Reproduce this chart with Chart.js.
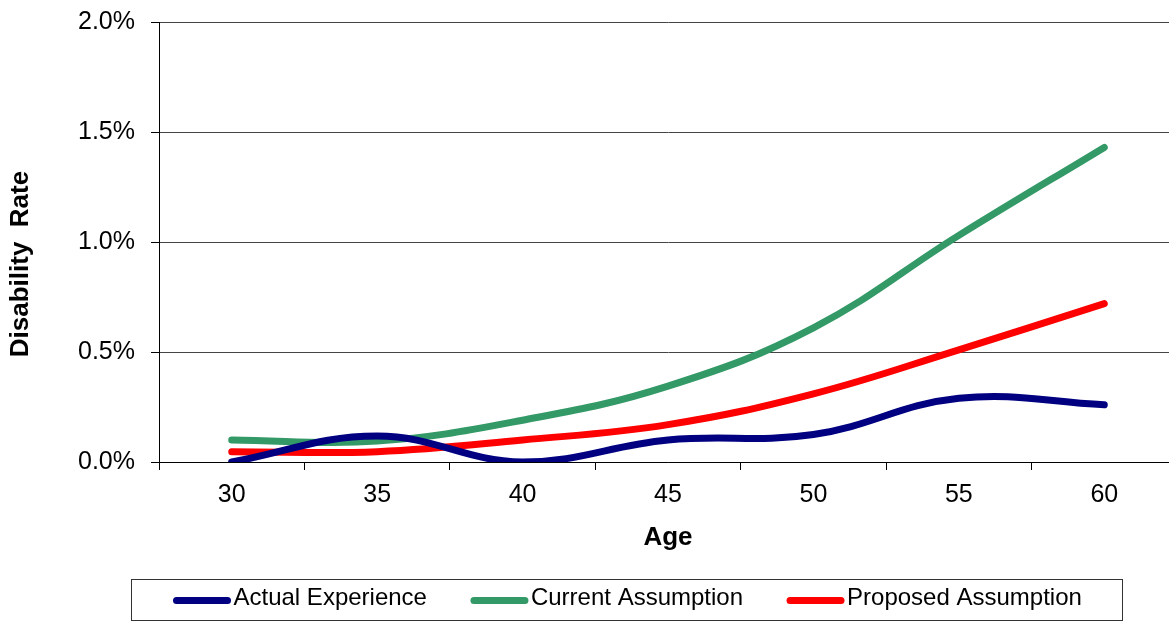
<!DOCTYPE html>
<html>
<head>
<meta charset="utf-8">
<script src="https://cdn.jsdelivr.net/npm/chart.js@4/dist/chart.umd.min.js"></script>
<style>
  html, body { margin: 0; padding: 0; background: #fff; overflow: hidden; }
  canvas { display: block; }
</style>
</head>
<body>
<canvas id="chart" width="1180" height="621"></canvas>
<script>
var ages = ["30", "35", "40", "45", "50", "55", "60"];
var actualExperience = [0.00, 0.118, 0.00, 0.10, 0.125, 0.29, 0.26];
var currentAssumption = [0.10, 0.095, 0.19, 0.345, 0.61, 1.03, 1.43];
var proposedAssumption = [0.047, 0.047, 0.10, 0.17, 0.31, 0.51, 0.72];
var yTicks = [0, 0.5, 1.0, 1.5, 2.0];

var fontName = "'Liberation Sans', Arial, sans-serif";

function makeLine(label, values, colour) {
    return {
        label: label,
        data: values,
        borderColor: colour,
        backgroundColor: colour,
        borderWidth: 7,
        borderCapStyle: "round",
        borderJoinStyle: "round",
        pointRadius: 0,
        tension: 0.4,
        fill: false
    };
}

// legend box + rotated y title, drawn by hand so they sit where the original has them
var extrasPlugin = {
    id: "extras",
    afterDraw: function (chart) {
        var ctx = chart.ctx;
        ctx.save();

        ctx.font = "bold 26px " + fontName;
        ctx.fillStyle = "#000";
        ctx.textAlign = "center";
        ctx.textBaseline = "middle";
        ctx.translate(21, 264);
        ctx.rotate(-Math.PI / 2);
        ctx.fillText("Disability  Rate", 0, 0);
        ctx.setTransform(1, 0, 0, 1, 0, 0);

        ctx.strokeStyle = "#333";
        ctx.lineWidth = 1;
        ctx.strokeRect(131.5, 579.5, 991, 41);

        ctx.font = "24px " + fontName;
        ctx.textAlign = "left";
        var x = 176.5;
        var y = 600.5;
        chart.data.datasets.forEach(function (ds) {
            ctx.strokeStyle = ds.borderColor;
            ctx.lineWidth = 7;
            ctx.lineCap = "round";
            ctx.beginPath();
            ctx.moveTo(x, y);
            ctx.lineTo(x + 51, y);
            ctx.stroke();
            ctx.fillStyle = "#000";
            ctx.fillText(ds.label, x + 57, y - 2);
            x += 57 + ctx.measureText(ds.label).width + 47;
        });
        ctx.restore();
    }
};

var chart = new Chart(document.getElementById("chart"), {
    type: "line",
    data: {
        labels: ages,
        datasets: [
            makeLine("Actual Experience", actualExperience, "#000080"),
            makeLine("Current Assumption", currentAssumption, "#339966"),
            makeLine("Proposed Assumption", proposedAssumption, "#ff0000")
        ]
    },
    options: {
        responsive: false,
        animation: false,
        layout: { padding: { top: 22, right: 3, bottom: 68, left: 0 } },
        plugins: {
            legend: { display: false },
            tooltip: { enabled: false }
        },
        scales: {
            x: {
                offset: true,
                afterFit: function (scale) { scale.height = 91; },
                grid: {
                    offset: true,
                    drawOnChartArea: false,
                    drawTicks: true,
                    tickLength: 8,
                    tickColor: "#000"
                },
                border: { display: true, color: "#000", width: 1 },
                ticks: {
                    color: "#000",
                    padding: 10,
                    font: { family: fontName, size: 25 }
                },
                title: {
                    display: true,
                    text: "Age",
                    color: "#000",
                    padding: { top: 0, bottom: 0 },
                    font: { family: fontName, size: 26, weight: "bold" }
                }
            },
            y: {
                min: 0,
                max: 2.0,
                afterFit: function (scale) {
                    scale.width = 159;
                    scale.paddingTop = 0;
                    scale.paddingBottom = 0;
                },
                afterBuildTicks: function (scale) {
                    scale.ticks = yTicks.map(function (v) { return { value: v }; });
                },
                grid: {
                    color: "#444",
                    lineWidth: 1,
                    tickLength: 8,
                    tickColor: "#000"
                },
                border: { display: true, color: "#000", width: 1 },
                ticks: {
                    color: "#000",
                    padding: 16,
                    font: { family: fontName, size: 25 },
                    callback: function (v) { return v.toFixed(1) + "%"; }
                }
            }
        }
    },
    plugins: [extrasPlugin]
});
</script>
</body>
</html>
